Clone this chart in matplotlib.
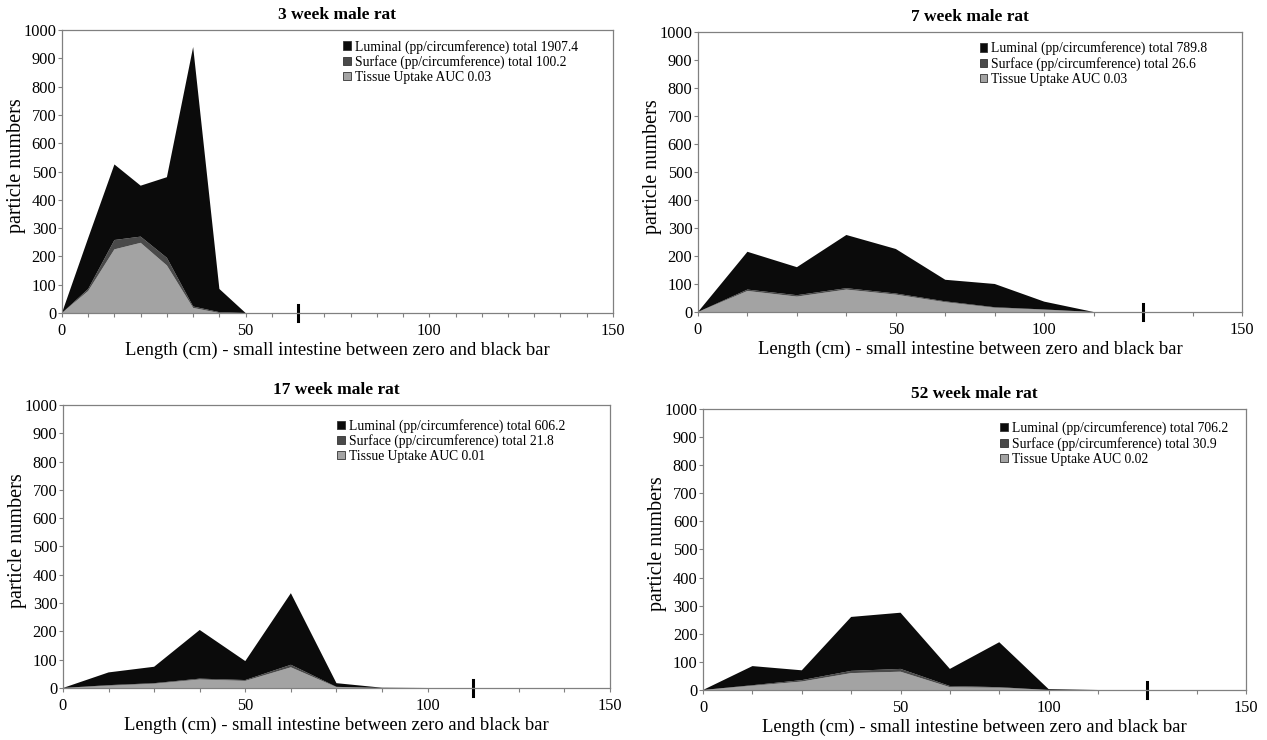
"""
plot.py
Stacked particle-number profiles along the small intestine for four rat ages.
Run: python plot.py
"""

import matplotlib
matplotlib.use("Agg")
import matplotlib.pyplot as plt
from matplotlib.patches import Patch
from matplotlib.transforms import blended_transform_factory

plt.rcParams["font.family"] = ["Liberation Serif", "DejaVu Serif"]

TITLES = ["3 week male rat", "7 week male rat", "17 week male rat", "52 week male rat"]

# x axis is a category axis: one point per tick, some ticks carry a length label
N_INTERVALS = [21, 11, 12, 11]
LABEL_INDEX = [[0, 7, 14, 21], [0, 4, 7, 11], [0, 4, 8, 12], [0, 4, 7, 11]]
LABEL_TEXT = ["0", "50", "100", "150"]
BLACK_BAR_INDEX = [9, 9, 9, 9]

# per-layer values (stacked: tissue, surface, luminal)
TISSUE_3 = [0, 78, 225, 248, 168, 18, 0] + [0] * 15
SURFACE_3 = [0, 7, 33, 22, 27, 5, 3] + [0] * 15
LUMINAL_3 = [0, 180, 267, 180, 285, 917, 82] + [0] * 15

TISSUE_7 = [0, 75, 55, 80, 62, 35, 15, 8, 0, 0, 0, 0]
SURFACE_7 = [0, 5, 5, 5, 4, 3, 2, 1, 0, 0, 0, 0]
LUMINAL_7 = [0, 135, 100, 190, 159, 77, 83, 28, 0, 0, 0, 0]

TISSUE_17 = [0, 8, 15, 30, 25, 73, 3, 0, 0, 0, 0, 0, 0]
SURFACE_17 = [0, 2, 2, 3, 3, 9, 1, 0, 0, 0, 0, 0, 0]
LUMINAL_17 = [0, 45, 58, 172, 67, 253, 13, 1, 0, 0, 0, 0, 0]

TISSUE_52 = [0, 15, 30, 60, 65, 10, 8, 0, 0, 0, 0, 0]
SURFACE_52 = [0, 2, 5, 8, 10, 4, 2, 0, 0, 0, 0, 0]
LUMINAL_52 = [0, 68, 35, 192, 200, 61, 160, 3, 0, 0, 0, 0]

LUMINAL_TOTAL = ["1907.4", "789.8", "606.2", "706.2"]
SURFACE_TOTAL = ["100.2", "26.6", "21.8", "30.9"]
TISSUE_AUC = ["0.03", "0.03", "0.01", "0.02"]

SERIES = [
    (TISSUE_3, SURFACE_3, LUMINAL_3),
    (TISSUE_7, SURFACE_7, LUMINAL_7),
    (TISSUE_17, SURFACE_17, LUMINAL_17),
    (TISSUE_52, SURFACE_52, LUMINAL_52),
]

COLORS = ["#a3a3a3", "#4a4a4a", "#0b0b0b"]
AXES_RECTS = [
    [0.0489, 0.577, 0.4349, 0.3824],
    [0.5509, 0.5784, 0.4294, 0.3784],
    [0.0497, 0.0703, 0.4317, 0.3824],
    [0.5549, 0.0676, 0.4286, 0.3797],
]
LEGEND_X = [0.493, 0.5, 0.484, 0.53]
LEGEND_Y = [1.0, 1.0, 0.985, 0.99]


def draw_panel(fig, i):
    ax = fig.add_axes(AXES_RECTS[i])
    tissue, surface, luminal = SERIES[i]
    x = list(range(N_INTERVALS[i] + 1))
    ax.stackplot(x, tissue, surface, luminal, colors=COLORS, linewidth=0)

    ax.set_xlim(0, N_INTERVALS[i])
    ax.set_ylim(0, 1000)
    ax.set_yticks(range(0, 1001, 100))
    ax.set_xticks(x, minor=True)
    ax.set_xticks(LABEL_INDEX[i])
    ax.set_xticklabels(LABEL_TEXT)
    ax.tick_params(axis="both", which="both", direction="out", color="#808080",
                   labelsize=11.8, width=0.8)
    ax.tick_params(axis="x", which="both", length=3, pad=4)
    ax.tick_params(axis="y", length=3, pad=1)
    for spine in ax.spines.values():
        spine.set_color("#808080")
        spine.set_linewidth(0.9)

    # black bar marking the end of the small intestine
    trans = blended_transform_factory(ax.transData, ax.transAxes)
    ax.plot([BLACK_BAR_INDEX[i]] * 2, [-0.028, 0.028], color="black",
            linewidth=2.2, transform=trans, clip_on=False)

    ax.set_title(TITLES[i], fontsize=12.5, fontweight="bold", pad=8)
    ax.set_ylabel("particle numbers", fontsize=14.5)
    ax.yaxis.set_label_coords(-0.066, 0.52)
    ax.set_xlabel("Length (cm) - small intestine between zero and black bar",
                  fontsize=13.4, labelpad=2)

    handles = [
        Patch(facecolor=COLORS[2], edgecolor="#333333", linewidth=0.6,
              label=f"Luminal (pp/circumference) total {LUMINAL_TOTAL[i]}"),
        Patch(facecolor=COLORS[1], edgecolor="#333333", linewidth=0.6,
              label=f"Surface (pp/circumference) total {SURFACE_TOTAL[i]}"),
        Patch(facecolor=COLORS[0], edgecolor="#333333", linewidth=0.6,
              label=f"Tissue Uptake AUC {TISSUE_AUC[i]}"),
    ]
    ax.legend(handles=handles, loc="upper left", bbox_to_anchor=(LEGEND_X[i], LEGEND_Y[i]),
              frameon=False, fontsize=9.85, handlelength=0.55, handleheight=0.55,
              handletextpad=0.3, labelspacing=0.12, borderaxespad=0.3)


fig = plt.figure(figsize=(12.67, 7.4), dpi=100)
for i in range(4):
    draw_panel(fig, i)
fig.savefig("out.png", dpi=100)
plt.close(fig)
